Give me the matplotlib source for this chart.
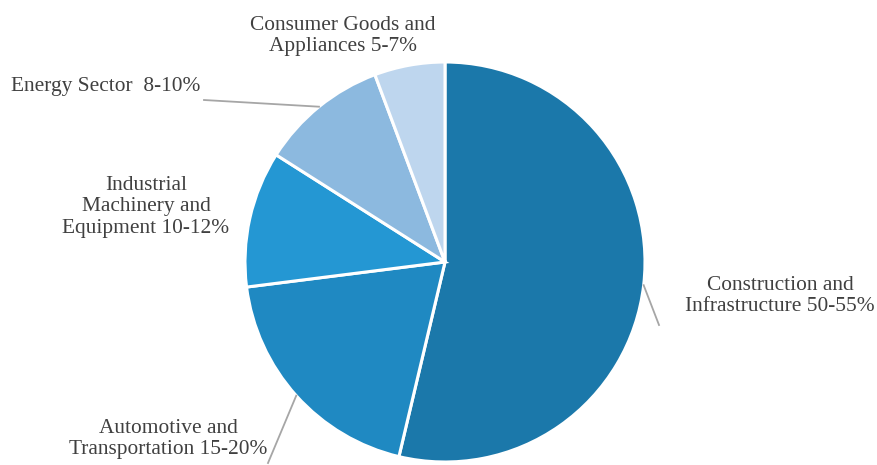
import numpy as np
import matplotlib.pyplot as plt

# Data
labels = ['Construction and\nInfrastructure 50-55%',
          'Automotive and\nTransportation 15-20%',
          'Industrial\nMachinery and\nEquipment 10-12%',
          'Energy Sector  8-10%',
          'Consumer Goods and\nAppliances 5-7%']
shares = [53.7, 19.3, 11.0, 10.3, 5.7]
colors = ['#1b78aa', '#1f89c2', '#2497d3', '#8cb9df', '#bed6ee']

# label positions (pixel coords, y from top) and leader line ends
label_xy = [(780, 296), (168, 439), (146, 207), (106, 86), (343, 36)]
leader_end = [(659, 325), (268, 463), None, (204, 100), None]

W, H = 877, 465
cx, cy, r = 445, 262, 200

fig = plt.figure(figsize=(W / 100, H / 100), dpi=100)
ax = fig.add_axes([0, 0, 1, 1])

wedges, _ = ax.pie(shares, colors=colors, startangle=90, counterclock=False,
                   center=(cx, H - cy), radius=r,
                   wedgeprops=dict(edgecolor='white', linewidth=2.2))
ax.set_xlim(0, W)
ax.set_ylim(0, H)
ax.set_aspect('equal')
ax.axis('off')

# leader lines from slice mid-angle on the rim
angles = np.cumsum([0] + shares[:-1]) + np.array(shares) / 2
for a, end in zip(angles, leader_end):
    if end is None:
        continue
    th = np.deg2rad(a * 3.6)
    x0 = cx + r * np.sin(th)
    y0 = cy - r * np.cos(th)
    ax.plot([x0, end[0]], [H - y0, H - end[1]], color='#a6a6a6', lw=1.3)

for lab, (x, y) in zip(labels, label_xy):
    ax.text(x, H - y, lab, ha='center', va='center', multialignment='center',
            fontsize=15.4, family='Liberation Serif', color='#404040',
            linespacing=1.2)

fig.savefig('out.png', dpi=100)
